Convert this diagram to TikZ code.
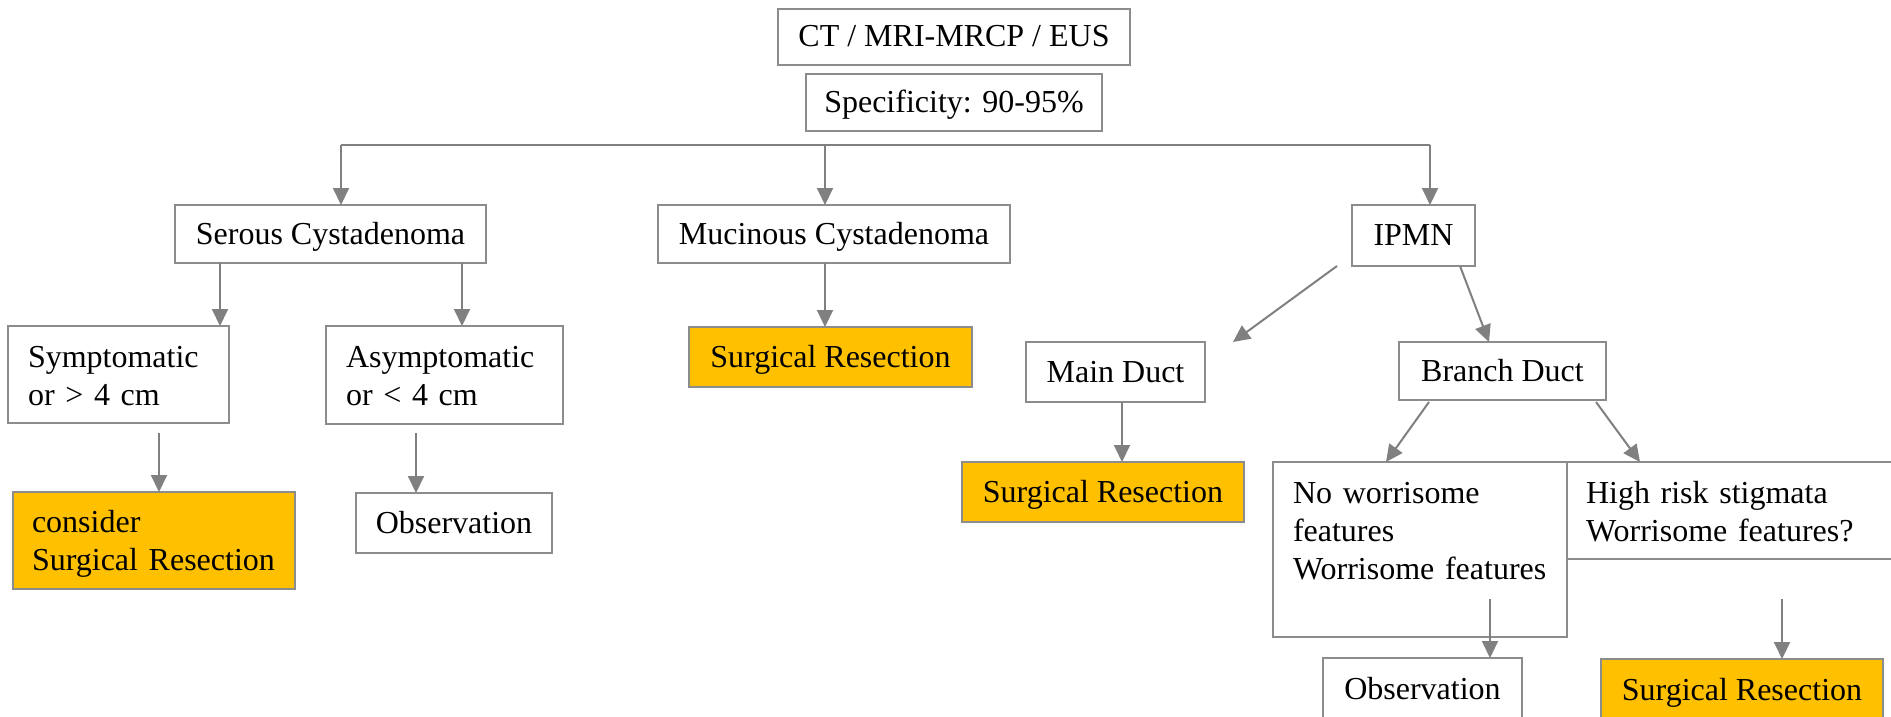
\documentclass[tikz,border=0pt]{standalone}
\usepackage{fontspec}
\setmainfont{Liberation Serif}
\usetikzlibrary{arrows.meta}
\definecolor{lc}{RGB}{128,128,128}
\definecolor{bc}{RGB}{140,140,140}
\definecolor{og}{RGB}{255,192,0}
\begin{document}
\begin{tikzpicture}[x=1pt,y=-1pt,
  every node/.style={font=\fontsize{32}{38}\selectfont, outer sep=0pt},
  cbox/.style={draw=bc, line width=2pt, fill=white, inner sep=0pt, text height=24pt, text depth=4pt},
  lbox/.style={draw=bc, line width=2pt, fill=white, anchor=north west, align=left, text height=22pt},
  hot/.style={fill=og},
  ln/.style={draw=lc, line width=2pt},
  arr/.style={ln, -{Triangle[length=17pt,width=16pt]}}
]
\useasboundingbox (0,0) rectangle (1891,717);
\clip (0,0) rectangle (1891,717);
\fill[white] (0,0) rectangle (1891,717);

% nodes
\node[cbox, minimum width=352pt, minimum height=56pt] (ct) at (954,37) {CT / MRI-MRCP / EUS};
\node[cbox, minimum width=296pt, minimum height=57pt] (spec) at (954,102.5) {Specificity: 90-95\%};
\node[cbox, minimum width=311pt, minimum height=58pt] (serous) at (330.5,234) {Serous Cystadenoma};
\node[cbox, minimum width=352pt, minimum height=58pt] (muc) at (834,234) {Mucinous Cystadenoma};
\node[cbox, minimum width=123pt, minimum height=61pt] (ipmn) at (1413.5,235.5) {IPMN};

\node[lbox, text width=181pt, inner xsep=20pt, inner ysep=19pt, text depth=37pt] (sym) at (8,326) {Symptomatic\\or > 4 cm};
\node[lbox, text width=197pt, inner xsep=20pt, inner ysep=19pt, text depth=38pt] (asym) at (326,326) {Asymptomatic\\or < 4 cm};
\node[cbox, hot, minimum width=283pt, minimum height=60pt] (sr1) at (830.5,357) {Surgical Resection};
\node[lbox, hot, text width=244pt, inner xsep=19pt, inner ysep=18pt, text depth=39pt] (cons) at (13,492) {consider\\Surgical Resection};
\node[cbox, minimum width=196pt, minimum height=60pt] (obs1) at (454,523) {Observation};

\node[cbox, minimum width=179pt, minimum height=60pt] (md) at (1115.5,372) {Main Duct};
\node[cbox, minimum width=207pt, minimum height=58pt] (bd) at (1502.5,371) {Branch Duct};
\node[cbox, hot, minimum width=282pt, minimum height=60pt] (sr2) at (1103,492) {Surgical Resection};
\node[lbox, text width=254pt, inner xsep=20pt, inner ysep=19pt, text depth=115pt] (nw) at (1273,462) {No worrisome\\features\\Worrisome features};
\node[lbox, text width=302pt, inner xsep=19pt, inner ysep=19pt, text depth=37pt] (hr) at (1567,462) {High risk stigmata\\Worrisome features?};
\node[cbox, minimum width=199pt, minimum height=62pt] (obs2) at (1422.5,689) {Observation};
\node[cbox, hot, minimum width=282pt, minimum height=62pt] (sr3) at (1742,690) {Surgical Resection};

% connectors
\coordinate (hL) at (341,145);
\coordinate (hM) at (825,145);
\coordinate (hR) at (1430,145);
\draw[ln] (hL) -- (hR);
\draw[arr] (hL) -- (hL |- serous.north);
\draw[arr] (hM) -- (hM |- muc.north);
\draw[arr] (hR) -- (hR |- ipmn.north);

\draw[arr] (220,0 |- serous.south) -- (220,0 |- sym.north);
\draw[arr] (462,0 |- serous.south) -- (462,0 |- asym.north);
\draw[arr] (825,0 |- muc.south) -- (825,0 |- sr1.north);
\draw[arr] ([shift={(151,10)}]sym.south west) -- (159,0 |- cons.north);
\draw[arr] ([shift={(90,9)}]asym.south west) -- (416,0 |- obs1.north);

\draw[arr] ([shift={(-15,0)}]ipmn.south west) -- ([shift={(28,0)}]md.north east);
\draw[arr] ([shift={(108,0)}]ipmn.south west) -- ([shift={(90,0)}]bd.north west);
\draw[arr] (1122,0 |- md.south) -- (1122,0 |- sr2.north);
\draw[arr] ([shift={(30,2)}]bd.south west) -- ([shift={(113,0)}]nw.north west);
\draw[arr] ([shift={(-10,2)}]bd.south east) -- ([shift={(73,0)}]hr.north west);
\draw[arr] ([shift={(217,-38)}]nw.south west) -- (1490,0 |- obs2.north);
\draw[arr] ([shift={(215,40)}]hr.south west) -- (1782,0 |- sr3.north);
\end{tikzpicture}
\end{document}
